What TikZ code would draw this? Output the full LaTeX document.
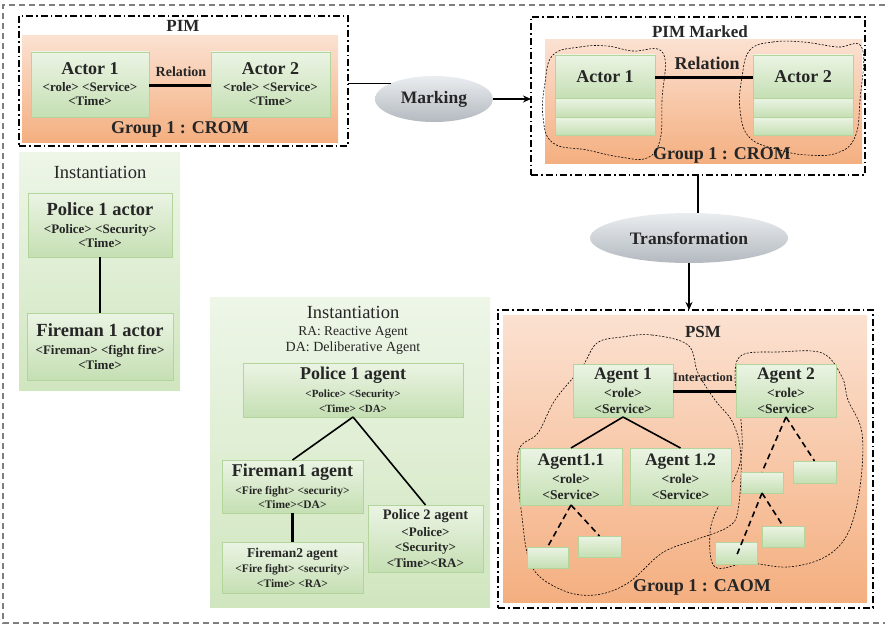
\documentclass[tikz,border=0pt]{standalone}
\usepackage{fontspec}
\setmainfont{Liberation Serif}
\usetikzlibrary{arrows.meta,shapes.geometric}

\definecolor{ink}{HTML}{262626}
\definecolor{peachtop}{HTML}{FBE1D1}
\definecolor{peachbot}{HTML}{F4AF80}
\definecolor{leaftop}{HTML}{EBF4E4}
\definecolor{leafbot}{HTML}{C5DFB3}
\definecolor{leafline}{HTML}{B3D59B}
\definecolor{paneltop}{HTML}{EEF6E8}
\definecolor{panelbot}{HTML}{D0E6BF}
\definecolor{pilltop}{HTML}{EAEDF0}
\definecolor{pillbot}{HTML}{B3B9BF}
\definecolor{framegray}{HTML}{7F7F7F}

\newcommand{\sized}[2]{{\fontsize{#1}{#1}\selectfont #2}}

\begin{document}
\begin{tikzpicture}[
  x=1pt, y=-1pt,
  every node/.style={inner sep=0pt, outer sep=0pt, text=ink},
  outerframe/.style={draw=framegray, line width=1.2pt, dash pattern=on 6pt off 4pt},
  dashdot/.style={draw=black, line width=1.4pt, dash pattern=on 7pt off 3pt on 1.6pt off 3pt},
  peach/.style={top color=peachtop, bottom color=peachbot, draw=none},
  panel/.style={top color=paneltop, bottom color=panelbot, draw=none},
  leaf/.style={draw=leafline, line width=0.9pt, top color=leaftop, bottom color=leafbot,
               align=center, font=\fontsize{13}{14}\selectfont\bfseries},
  pill/.style={ellipse, top color=pilltop, bottom color=pillbot, draw=none,
               font=\fontsize{17.5}{17.5}\selectfont\bfseries},
  heading/.style={font=\fontsize{17}{17}\selectfont\bfseries},
  grouplabel/.style={font=\fontsize{18}{18}\selectfont\bfseries},
  linklabel/.style={font=\fontsize{14}{14}\selectfont\bfseries},
  plain/.style={font=\fontsize{18.5}{18.5}\selectfont},
  blob/.style={draw=black, line width=0.6pt, dash pattern=on 2pt off 1.5pt},
  link/.style={draw=black, line width=1.6pt},
  boldlink/.style={draw=black, line width=3pt},
  dashlink/.style={draw=black, line width=1.6pt, dash pattern=on 6pt off 4pt},
  arr/.style={draw=black, line width=1.4pt, -{Stealth[length=8pt,width=7pt]}}
]
\useasboundingbox (0,0) rectangle (885,626);

% outer frame (runs off the right edge)
\draw[outerframe] (895,5) -- (3,5) -- (3,623) -- (895,623);

% ================= PIM =================
\node[dashdot, minimum width=329, minimum height=130] (pim) at (183.5,81) {};
\node[peach, minimum width=316, minimum height=106] (pimbg) at (180,89) {};
\node[heading] (pimtitle) at (183,26) {PIM};
\node[leaf, minimum width=118, minimum height=65] (a1) at (90,84.5)
  {\sized{18}{Actor 1}\\[3pt] <role> <Service>\\ <Time>};
\node[leaf, minimum width=119, minimum height=65] (a2) at (270.5,84.5)
  {\sized{18}{Actor 2}\\[3pt] <role> <Service>\\ <Time>};
\draw[boldlink] (a1.east |- 0,85) -- (a2.west |- 0,85);
\node[linklabel] (rel1) at (181,72) {Relation};
\node[grouplabel] (pimgroup) at (180,129) {Group 1 : CROM};

% ================= Marking =================
\node[pill, minimum width=118, minimum height=46] (mark) at (434,99) {Marking};

% ================= PIM Marked =================
\node[dashdot, minimum width=334, minimum height=158] (pimm) at (698,96) {};
\node[peach, minimum width=317, minimum height=123] (pimmbg) at (703.5,101.5) {};
\node[heading] (pimmtitle) at (700,32) {PIM Marked};
\node[leaf, minimum width=100, minimum height=43, font=\fontsize{18}{18}\selectfont\bfseries] (m1) at (605,76.5) {Actor 1};
\node[leaf, minimum width=100, minimum height=19] (m1a) at (605,107.5) {};
\node[leaf, minimum width=100, minimum height=18] (m1b) at (605,126) {};
\node[leaf, minimum width=100, minimum height=43, font=\fontsize{18}{18}\selectfont\bfseries] (m2) at (803,76.5) {Actor 2};
\node[leaf, minimum width=100, minimum height=19] (m2a) at (803,107.5) {};
\node[leaf, minimum width=100, minimum height=18] (m2b) at (803,126) {};
\draw[boldlink] (m1.east |- 0,77) -- (m2.west |- 0,77);
\node[linklabel, font=\fontsize{18}{18}\selectfont\bfseries] (rel2) at (707,63) {Relation};
\node[grouplabel] (pimmgroup) at (722,155) {Group 1 : CROM};
\draw[blob] plot[smooth cycle, tension=0.7] coordinates {
  (553,55) (580,47) (607,46) (632,51) (663,53) (662,100) (660,140) (647,158)
  (620,157) (587,150) (553,143) (543,117) (545,83)};
\draw[blob] plot[smooth cycle, tension=0.7] coordinates {
  (750,50) (773,42) (803,42) (837,47) (862,48) (860,100) (855,137) (837,153)
  (807,155) (780,150) (750,138) (740,110) (742,77)};

% ================= Transformation =================
\node[pill, minimum width=198, minimum height=50] (trans) at (689,238) {Transformation};

% ================= PSM =================
\node[dashdot, minimum width=375, minimum height=298] (psm) at (685.5,459) {};
\node[peach, minimum width=364, minimum height=287] (psmbg) at (685,458.5) {};
\node[heading] (psmtitle) at (703,332) {PSM};
\draw[blob] plot[smooth cycle, tension=0.6] coordinates {
  (622,337) (652,335) (688,345) (698,373) (715,400) (733,423) (741,457)
  (738,510) (728,527) (695,540) (662,553) (628,583) (595,595) (562,590)
  (532,567) (522,517) (518,453) (538,433) (555,400) (582,367) (597,343)};
\draw[blob] plot[smooth cycle, tension=0.6] coordinates {
  (742,355) (778,352) (822,353) (842,377) (848,400) (862,433) (860,487)
  (848,533) (825,557) (788,567) (748,563) (715,567) (710,533) (718,507)
  (735,477) (742,450) (740,410) (735,377)};
\tikzset{agent/.style={leaf, font=\fontsize{13.5}{16}\selectfont\bfseries}}
\node[agent, minimum width=100, minimum height=53] (g1) at (623,390.5)
  {\sized{17.5}{Agent 1}\\[2pt] <role>\\ <Service>};
\node[agent, minimum width=100, minimum height=53] (g2) at (786,390.5)
  {\sized{17.5}{Agent 2}\\[2pt] <role>\\ <Service>};
\node[agent, minimum width=102, minimum height=57] (g11) at (571,476.5)
  {\sized{17.5}{Agent1.1}\\[2pt] <role>\\ <Service>};
\node[agent, minimum width=101, minimum height=57] (g12) at (680.5,476.5)
  {\sized{17.5}{Agent 1.2}\\[2pt] <role>\\ <Service>};
\node[leaf, minimum width=41, minimum height=21] (sa) at (547.5,557.5) {};
\node[leaf, minimum width=43, minimum height=21] (sb) at (599.5,546.5) {};
\node[leaf, minimum width=42, minimum height=21] (sc) at (762,482.5) {};
\node[leaf, minimum width=43, minimum height=22] (sd) at (814.5,472) {};
\node[leaf, minimum width=42, minimum height=22] (se) at (736,553) {};
\node[leaf, minimum width=42, minimum height=21] (sf) at (783,536.5) {};
\draw[boldlink] (g1.east |- 0,391) -- (g2.west |- 0,391);
\node[linklabel, font=\fontsize{12.5}{12.5}\selectfont\bfseries] (inter) at (703,377) {Interaction};
\draw[link] (g1.south) -- (g11.north);
\draw[link] (g1.south) -- (g12.north);
\draw[dashlink] (g11.south) -- (sa.north);
\draw[dashlink] (g11.south) -- (sb.north);
\draw[dashlink] (g2.south) -- (sc.north);
\draw[dashlink] (g2.south) -- (sd.north);
\draw[dashlink] (sc.south) -- ([yshift=-4pt]se.center);
\draw[dashlink] (sc.south) -- (sf.north);
\node[grouplabel] (psmgroup) at (702,587) {Group 1 : CAOM};

% ================= Instantiation of actors =================
\node[panel, minimum width=161, minimum height=238] (lpanel) at (99.5,271) {};
\node[plain] (ltitle) at (100,172) {Instantiation};
\node[leaf, minimum width=144, minimum height=64, font=\fontsize{13}{14}\selectfont\bfseries] (pa) at (100,225)
  {\sized{18.5}{Police 1 actor}\\[4pt] <Police> <Security>\\ <Time>};
\node[leaf, minimum width=146, minimum height=67, font=\fontsize{13}{15}\selectfont\bfseries] (fa) at (100,346.5)
  {\sized{18.5}{Fireman 1 actor}\\[3pt] <Fireman> <fight fire>\\ <Time>};
\draw[link] (pa.south) -- (fa.north);

% ================= Instantiation of agents =================
\node[panel, minimum width=280, minimum height=310] (mpanel) at (350,452) {};
\node[plain] (mtitle) at (353,312) {Instantiation};
\node[font=\fontsize{13.5}{13.5}\selectfont] (ra) at (353,332) {RA: Reactive Agent};
\node[font=\fontsize{14}{14}\selectfont] (da) at (353,348) {DA: Deliberative Agent};
\node[leaf, minimum width=220, minimum height=54, font=\fontsize{11}{15}\selectfont\bfseries] (pg) at (353,390)
  {\sized{18}{Police 1 agent}\\[3pt] <Police> <Security>\\ <Time> <DA>};
\node[leaf, minimum width=141, minimum height=53, font=\fontsize{11.5}{14}\selectfont\bfseries] (fg) at (292.5,486.5)
  {\sized{18}{Fireman1 agent}\\[4pt] <Fire fight> <security>\\ <Time><DA>};
\node[leaf, minimum width=115, minimum height=67, font=\fontsize{13}{15.5}\selectfont\bfseries] (pg2) at (425.5,538.5)
  {\sized{14.5}{Police 2 agent}\\[1.5pt] <Police>\\ <Security>\\ <Time><RA>};
\node[leaf, minimum width=141, minimum height=51, font=\fontsize{11.5}{15}\selectfont\bfseries] (fg2) at (292.5,567.5)
  {\sized{13.5}{Fireman2 agent}\\ <Fire fight> <security>\\ <Time> <RA>};
\draw[link] (pg.south) -- (fg.north);
\draw[link] (pg.south) -- (pg2.north);
\draw[boldlink] (fg.south) -- (fg2.north);

% ================= flow between the models =================
\draw[link, line width=1.4pt] (pim.east |- mark.160) -- (mark.160);
\draw[arr] (mark.east) -- (mark.east -| pimm.west);
\draw[link, line width=1.4pt] (pimm.south) -- (pimm.south |- trans.north);
\draw[arr] (trans.south) -- (trans.south |- psm.north);
\end{tikzpicture}
\end{document}
